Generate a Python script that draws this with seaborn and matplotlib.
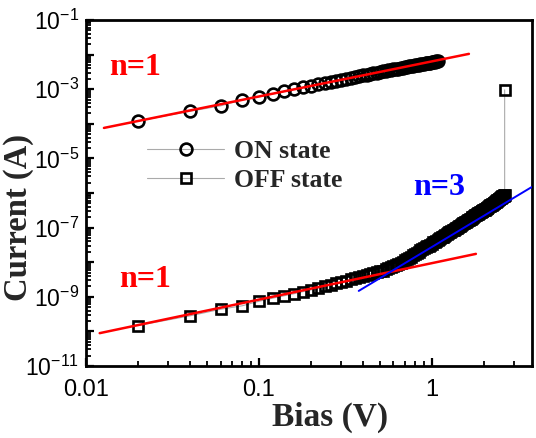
import numpy as np
import pandas as pd
import matplotlib
matplotlib.use("Agg")
import matplotlib.pyplot as plt
import seaborn as sns
from matplotlib.ticker import LogLocator, FuncFormatter, NullFormatter

# ---------------- data ----------------
on_bias = [0.02, 0.04, 0.06, 0.08, 0.10, 0.12, 0.14, 0.16, 0.18, 0.20,
           0.22, 0.24, 0.26, 0.28, 0.30, 0.32, 0.34, 0.36, 0.38, 0.40,
           0.42, 0.44, 0.46, 0.48, 0.50, 0.52, 0.54, 0.56, 0.58, 0.60,
           0.62, 0.64, 0.66, 0.68, 0.70, 0.72, 0.74, 0.76, 0.78, 0.80,
           0.82, 0.84, 0.86, 0.88, 0.90, 0.92, 0.94, 0.96, 0.98, 1.00,
           1.02, 1.04, 1.06, 1.08]
on_current_mA = [0.12, 0.23, 0.33, 0.49, 0.60, 0.73, 0.86, 0.99, 1.12, 1.25,
                 1.38, 1.51, 1.64, 1.76, 1.89, 2.02, 2.14, 2.27, 2.39, 2.52,
                 2.64, 2.76, 2.89, 3.01, 3.13, 3.25, 3.37, 3.49, 3.61, 3.73,
                 3.85, 3.96, 4.08, 4.20, 4.31, 4.43, 4.54, 4.66, 4.77, 4.88,
                 5.00, 5.11, 5.22, 5.33, 5.44, 5.55, 5.66, 5.77, 5.88, 5.99,
                 6.10, 6.21, 6.32, 6.43]

off_bias = [0.02, 0.04, 0.06, 0.08, 0.10, 0.12, 0.14, 0.16, 0.18, 0.20,
            0.22, 0.24, 0.26, 0.28, 0.30, 0.32, 0.34, 0.36, 0.38, 0.40,
            0.42, 0.44, 0.46, 0.48, 0.50, 0.52, 0.54, 0.56, 0.58, 0.60,
            0.62, 0.64, 0.66, 0.68, 0.70, 0.72, 0.74, 0.76, 0.78, 0.80,
            0.82, 0.84, 0.86, 0.88, 0.90, 0.92, 0.94, 0.96, 0.98, 1.00,
            1.02, 1.04, 1.06, 1.08, 1.10, 1.12, 1.14, 1.16, 1.18, 1.20,
            1.22, 1.24, 1.26, 1.28, 1.30, 1.32, 1.34, 1.36, 1.38, 1.40,
            1.42, 1.44, 1.46, 1.48, 1.50, 1.52, 1.54, 1.56, 1.58, 1.60,
            1.62, 1.64, 1.66, 1.68, 1.70, 1.72, 1.74, 1.76, 1.78, 1.80,
            1.82, 1.84, 1.86, 1.88, 1.90, 1.92, 1.94, 1.96, 1.98, 2.00,
            2.02, 2.04, 2.06, 2.08, 2.10, 2.12, 2.14, 2.16, 2.18, 2.20,
            2.22, 2.24, 2.26, 2.28, 2.30, 2.32, 2.34, 2.36, 2.38, 2.40,
            2.42, 2.44, 2.46, 2.48, 2.50, 2.52, 2.54, 2.56, 2.58, 2.60,
            2.62, 2.64, 2.64]
off_log_current = [-9.83, -9.55, -9.36, -9.26, -9.13, -9.04, -8.97, -8.91, -8.85, -8.80,
                   -8.75, -8.70, -8.65, -8.61, -8.57, -8.53, -8.49, -8.46, -8.43, -8.40,
                   -8.37, -8.34, -8.32, -8.29, -8.26, -8.24, -8.21, -8.18, -8.15, -8.11,
                   -8.08, -8.05, -8.01, -7.98, -7.94, -7.91, -7.88, -7.84, -7.80, -7.77,
                   -7.73, -7.70, -7.66, -7.63, -7.60, -7.57, -7.54, -7.52, -7.49, -7.46,
                   -7.43, -7.41, -7.38, -7.35, -7.33, -7.30, -7.28, -7.26, -7.23, -7.21,
                   -7.19, -7.16, -7.14, -7.12, -7.10, -7.08, -7.06, -7.04, -7.02, -7.00,
                   -6.98, -6.96, -6.94, -6.92, -6.90, -6.88, -6.86, -6.84, -6.83, -6.81,
                   -6.79, -6.77, -6.75, -6.74, -6.72, -6.70, -6.69, -6.67, -6.65, -6.64,
                   -6.62, -6.61, -6.59, -6.58, -6.56, -6.55, -6.53, -6.52, -6.50, -6.49,
                   -6.48, -6.46, -6.45, -6.43, -6.42, -6.40, -6.39, -6.38, -6.36, -6.35,
                   -6.34, -6.32, -6.31, -6.30, -6.28, -6.27, -6.25, -6.24, -6.22, -6.21,
                   -6.19, -6.18, -6.17, -6.15, -6.14, -6.13, -6.12, -6.10, -6.09, -6.08,
                   -6.07, -6.06, -3.02]

# linear / cubic fits drawn on the reference
fit_on_bias = [0.0127, 1.64]
fit_on_current = [7.6e-5, 1.05e-2]
fit_off1_bias = [0.012, 1.8]
fit_off1_current = [8.9e-11, 1.74e-8]
fit_off3_bias = [0.378, 3.78]
fit_off3_current = [1.48e-9, 1.48e-6]

note_texts = ["n=1", "n=1", "n=3"]
note_bias = [0.0192, 0.0219, 1.10]
note_current = [2.6e-3, 1.9e-9, 8.7e-7]
note_colors = ["#ff0000", "#ff0000", "#0000ff"]

series_labels = ["ON state", "OFF state"]

# ---------------- frames ----------------
on_df = pd.DataFrame({"Bias": on_bias,
                      "Current": np.array(on_current_mA) * 1e-3})
off_df = pd.DataFrame({"Bias": off_bias,
                       "Current": 10.0 ** np.array(off_log_current)})

sns.set_style("white")
plt.rcParams["font.family"] = ["Liberation Sans", "DejaVu Sans"]
plt.rcParams["mathtext.fontset"] = "custom"
plt.rcParams["mathtext.rm"] = "Liberation Sans"
plt.rcParams["xtick.direction"] = "in"
plt.rcParams["ytick.direction"] = "in"

fig = plt.figure(figsize=(5.36, 4.38), dpi=100)
ax = fig.add_axes([86 / 536, 1 - 366 / 438, 446 / 536, 346 / 438])

gray = "#aaaaaa"
sns.lineplot(data=on_df, x="Bias", y="Current", ax=ax, estimator=None, sort=False,
             color=gray, lw=0.8, marker="o", markersize=8.5, mfc="none",
             mec="black", mew=1.9, label=series_labels[0], zorder=2)
sns.lineplot(data=off_df, x="Bias", y="Current", ax=ax, estimator=None, sort=False,
             color=gray, lw=0.8, marker="s", markersize=7.8, mfc="none",
             mec="black", mew=1.9, label=series_labels[1], zorder=2)

sns.lineplot(x=fit_on_bias, y=fit_on_current, ax=ax, color="#ff0000", lw=1.8,
             estimator=None, sort=False, zorder=4, legend=False)
sns.lineplot(x=fit_off1_bias, y=fit_off1_current, ax=ax, color="#ff0000", lw=1.8,
             estimator=None, sort=False, zorder=4, legend=False)
sns.lineplot(x=fit_off3_bias, y=fit_off3_current, ax=ax, color="#0000ff", lw=1.4,
             estimator=None, sort=False, zorder=4, legend=False)

ax.set_xscale("log")
ax.set_yscale("log")
ax.set_xlim(0.01, 3.8)
ax.set_ylim(1e-11, 1e-1)

ax.xaxis.set_major_locator(LogLocator(base=10, numticks=10))
ax.xaxis.set_minor_locator(LogLocator(base=10, subs=np.arange(2, 10), numticks=20))
ax.xaxis.set_major_formatter(FuncFormatter(lambda v, p: "%g" % v))
ax.xaxis.set_minor_formatter(NullFormatter())
ax.yaxis.set_major_locator(LogLocator(base=10, numticks=20))
ax.yaxis.set_minor_locator(LogLocator(base=10, subs=np.arange(2, 10), numticks=30))


def yfmt(v, p):
    e = int(round(np.log10(v)))
    return r"$\mathregular{10^{%d}}$" % e if e % 2 else ""


ax.yaxis.set_major_formatter(FuncFormatter(yfmt))
ax.yaxis.set_minor_formatter(NullFormatter())

ax.tick_params(which="both", bottom=True, left=True, top=False, right=False,
               colors="black")
ax.tick_params(which="major", length=6, width=1.6)
ax.tick_params(axis="x", which="major", pad=9, labelsize=17)
ax.tick_params(axis="y", which="major", pad=5, labelsize=16.5)
ax.tick_params(which="minor", length=3.5, width=1.3)
for s in ax.spines.values():
    s.set_linewidth(2.0)
    s.set_color("black")

serif = ["Liberation Serif", "DejaVu Serif"]
ax.set_xlabel("Bias (V)", fontsize=24, fontweight="bold", family=serif)
ax.set_ylabel("Current (A)", fontsize=23.5, fontweight="bold", family=serif)
ax.xaxis.label.set(ha="center", va="center")
ax.yaxis.label.set(ha="center", va="center")
ax.xaxis.set_label_coords(0.547, -0.148)
ax.yaxis.set_label_coords(-0.152, 0.43)

for t, xb, yc, c in zip(note_texts, note_bias, note_current, note_colors):
    ax.text(xb, yc, t, color=c, fontsize=23, fontweight="bold", family=serif,
            ha="center", va="baseline", zorder=5)

leg = ax.legend(loc="upper left", bbox_to_anchor=(147 / 536, 1 - 140 / 438),
                bbox_transform=fig.transFigure, frameon=False, borderpad=0,
                borderaxespad=0, handlelength=3.0, handletextpad=0.4,
                labelspacing=0.22,
                prop={"family": serif, "weight": "bold", "size": 18.5})

fig.savefig("out.png", dpi=100)
